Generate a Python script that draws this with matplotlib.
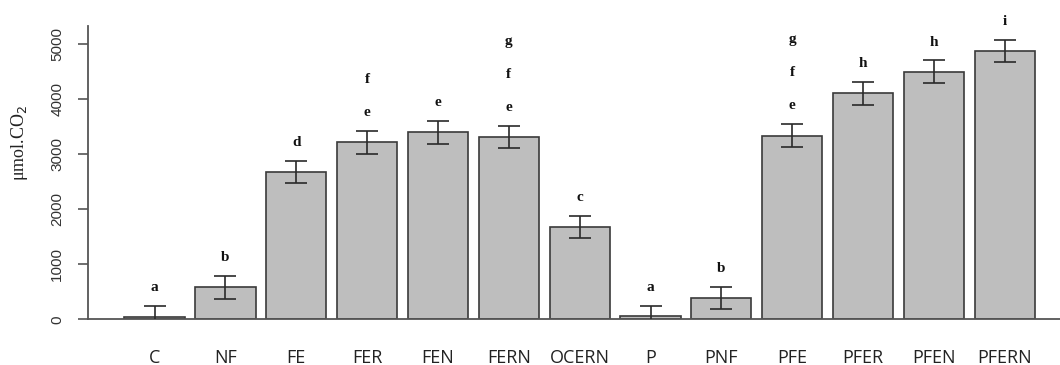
import matplotlib.pyplot as plt
import numpy as np

tratamentos = ["C", "NF", "FE", "FER", "FEN", "FERN", "OCERN",
               "P", "PNF", "PFE", "PFER", "PFEN", "PFERN"]
medias = [50, 580, 2675, 3210, 3390, 3305, 1680,
          60, 395, 3335, 4100, 4495, 4870]
erros = [200, 210, 205, 210, 210, 200, 200,
         190, 200, 210, 205, 205, 205]
letras = ["a", "b", "d", "ef", "e", "efg", "c",
          "a", "b", "efg", "h", "h", "i"]

cor_eixo = "#555555"

fig = plt.figure(figsize=(10.6, 3.65), dpi=100)
ax = fig.add_axes([0.083, 0.125, 0.917, 0.805])

x = np.arange(len(tratamentos))
ax.bar(x, medias, width=0.85, color="#bebebe", edgecolor="#3a3a3a",
       linewidth=1.2, zorder=2)
ax.errorbar(x, medias, yerr=erros, fmt="none", ecolor="#2a2a2a",
            elinewidth=1.2, capsize=8, capthick=1.2, zorder=3)

# letras de significancia empilhadas acima da barra de erro
for xi, m, e, l in zip(x, medias, erros, letras):
    for k, letra in enumerate(l):
        ax.text(xi, m + e + 330 + k * 600, letra, ha="center", va="center",
                family="Liberation Serif", fontweight="bold", fontsize=11,
                color="#111111", clip_on=False)

ax.set_xlim(-0.94, 12.78)
ax.set_ylim(0, 5330)

for lado in ["top", "right"]:
    ax.spines[lado].set_visible(False)
for lado in ["left", "bottom"]:
    ax.spines[lado].set_color(cor_eixo)
    ax.spines[lado].set_linewidth(1.3)

ax.set_yticks([0, 1000, 2000, 3000, 4000, 5000])
ax.set_yticklabels(["0", "1000", "2000", "3000", "4000", "5000"],
                   rotation=90, va="center", family="Liberation Sans",
                   fontsize=11, color="#333333")
ax.tick_params(axis="y", length=7, width=1.2, color=cor_eixo, pad=10)

ax.set_xticks(x)
ax.set_xticklabels(tratamentos, family="Open Sans", fontsize=13,
                   color="#222222")
ax.tick_params(axis="x", length=0, pad=21)

ax.set_ylabel("\u03bcmol.CO$_2$", family="Liberation Serif",
              fontsize=13, color="#222222")
ax.yaxis.set_label_coords(-0.06, 0.6)

fig.savefig("out.png", dpi=100)
